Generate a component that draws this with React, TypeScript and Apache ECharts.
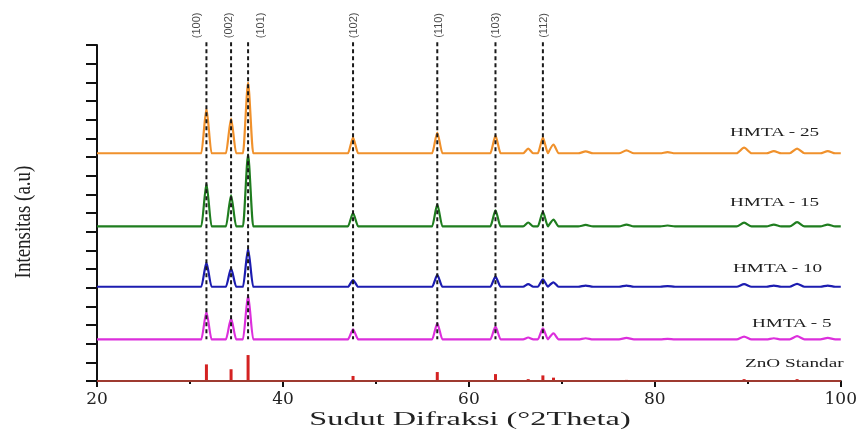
import React, { useEffect, useRef } from "react";
import * as echarts from "echarts";

// 2θ positions of the ZnO reflections (degrees)
const peakPos = [31.77, 34.42, 36.25, 47.54, 56.6, 62.86, 66.38, 67.96, 69.1, 72.56, 76.95, 81.37, 89.6, 92.8, 95.3, 98.6];

// Peak heights above each trace's baseline (arbitrary units)
const hmta25 = [2.39, 1.86, 3.79, 0.84, 1.11, 0.95, 0.25, 0.84, 0.47, 0.1, 0.15, 0.06, 0.3, 0.12, 0.25, 0.12];
const hmta15 = [2.3, 1.66, 3.86, 0.71, 1.18, 0.86, 0.21, 0.78, 0.37, 0.08, 0.1, 0.05, 0.2, 0.1, 0.23, 0.1];
const hmta10 = [1.29, 0.98, 2.03, 0.36, 0.63, 0.54, 0.14, 0.39, 0.23, 0.06, 0.06, 0.03, 0.14, 0.06, 0.15, 0.06];
const hmta5 = [1.48, 1.13, 2.37, 0.54, 0.86, 0.68, 0.1, 0.59, 0.32, 0.06, 0.08, 0.03, 0.15, 0.06, 0.17, 0.08];
const znoStd = [0.89, 0.63, 1.39, 0.27, 0.48, 0.37, 0.1, 0.3, 0.18, 0.04, 0.06, 0.03, 0.1, 0.05, 0.1, 0.05];

// Vertical offsets (baselines) of the stacked patterns
const baselines = { hmta25: 12.2, hmta15: 8.28, hmta10: 5.05, hmta5: 2.23 };

// Indexed reflections (hkl) marked by dashed lines
const hklLabels = ["(100)", "(002)", "(101)", "(102)", "(110)", "(103)", "(112)"];
const hklPos = [31.77, 34.42, 36.25, 47.54, 56.6, 62.86, 67.96];
const hklLabelShift = [-10, -3, 12, 0, 1, 0, 0];

const xTicks = [20, 40, 60, 80, 100];

function buildTrace(base: number, heights: number[]) {
  const pts: number[][] = [[xTicks[0], base]];
  peakPos.forEach((p, i) => {
    const w = i < 9 ? 0.55 : 0.8;
    pts.push([p - w, base], [p, base + heights[i]], [p + w, base]);
  });
  pts.push([xTicks[xTicks.length - 1], base]);
  return pts;
}

export default function App() {
  const ref = useRef<HTMLDivElement>(null);
  useEffect(() => {
    if (!ref.current) return;
    const chart = echarts.init(ref.current, null, { renderer: "svg" });

    const traceSeries = (name: string, base: number, h: number[], color: string) => ({
      name,
      type: "line",
      data: buildTrace(base, h),
      showSymbol: false,
      symbol: "none",
      smooth: 0.25,
      smoothMonotone: "x",
      clip: false,
      lineStyle: { color, width: 2.2 },
      z: 3,
    });

    const dashSeries = hklPos.map((p, i) => ({
      name: "hkl" + i,
      type: "line",
      data: [
        [p, 18.15],
        [p, baselines.hmta5],
      ],
      showSymbol: false,
      symbol: "none",
      clip: false,
      lineStyle: { color: "#1a1a1a", width: 2, type: [4, 3] },
      z: 5,
    }));

    const textStyle = (text: string) => ({
      text,
      font: '12px "Liberation Serif"',
      fill: "#222",
      textVerticalAlign: "middle",
      verticalAlign: "middle",
    });

    chart.setOption({
      animation: false,
      grid: { left: 97, right: 17, top: 45, bottom: 51 },
      xAxis: {
        type: "value",
        min: 20,
        max: 100,
        interval: 20,
        axisLine: { lineStyle: { color: "#111", width: 2 } },
        axisTick: { show: true, length: 6, lineStyle: { color: "#111", width: 2 } },
        minorTick: { show: true, splitNumber: 2, length: 3, lineStyle: { color: "#111", width: 2 } },
        splitLine: { show: false },
        axisLabel: { fontFamily: "DejaVu Serif", fontSize: 17, color: "#222", margin: 8 },
      },
      yAxis: {
        type: "value",
        min: 0,
        max: 18,
        interval: 1,
        axisLine: { show: true, lineStyle: { color: "#111", width: 2 } },
        axisTick: { show: true, length: 11, lineStyle: { color: "#111", width: 2 } },
        splitLine: { show: false },
        axisLabel: { show: false },
      },
      series: [
        traceSeries("HMTA - 25", baselines.hmta25, hmta25, "#f0912c"),
        traceSeries("HMTA - 15", baselines.hmta15, hmta15, "#1f7d1f"),
        traceSeries("HMTA - 10", baselines.hmta10, hmta10, "#1c1cb0"),
        traceSeries("HMTA - 5", baselines.hmta5, hmta5, "#dc2fdc"),
        {
          name: "ZnO Standar",
          type: "bar",
          data: peakPos.map((p, i) => [p, znoStd[i]]),
          barWidth: 3,
          itemStyle: { color: "#d42222" },
          z: 3,
        },
        {
          name: "ZnO baseline",
          type: "line",
          data: [
            [20, 0],
            [100, 0],
          ],
          showSymbol: false,
          symbol: "none",
          lineStyle: { color: "#9e3a30", width: 2 },
          z: 4,
        },
        ...dashSeries,
        {
          name: "hkl labels",
          type: "scatter",
          clip: false,
          symbolSize: 0,
          data: hklPos.map((p, i) => ({
            value: [p, 19.05],
            label: { offset: [0, hklLabelShift[i]] },
          })),
          label: {
            show: true,
            position: "inside",
            rotate: 90,
            align: "center",
            verticalAlign: "middle",
            fontFamily: "Liberation Sans",
            fontSize: 11,
            color: "#1a1a1a",
            formatter: (p: any) => hklLabels[p.dataIndex],
          },
          z: 6,
        },
      ],
      graphic: [
        { type: "text", x: 730, y: 132, scaleX: 1.6, style: textStyle("HMTA - 25") },
        { type: "text", x: 730, y: 202, scaleX: 1.6, style: textStyle("HMTA - 15") },
        { type: "text", x: 733, y: 268, scaleX: 1.6, style: textStyle("HMTA - 10") },
        { type: "text", x: 752, y: 323, scaleX: 1.6, style: textStyle("HMTA - 5") },
        { type: "text", x: 745, y: 363, scaleX: 1.6, style: textStyle("ZnO Standar") },
        {
          type: "text",
          x: 470,
          y: 419,
          scaleX: 1.7,
          style: { text: "Sudut Difraksi (°2Theta)", font: '19px "Liberation Serif"', fill: "#222", textAlign: "center", align: "center", textVerticalAlign: "middle", verticalAlign: "middle" },
        },
        {
          type: "text",
          x: 22,
          y: 222,
          rotation: Math.PI / 2,
          scaleY: 1.2,
          style: { text: "Intensitas (a.u)", font: '19px "Liberation Serif"', fill: "#222", textAlign: "center", align: "center", textVerticalAlign: "middle", verticalAlign: "middle" },
        },
      ],
    });
    return () => chart.dispose();
  }, []);
  return <div ref={ref} style={{ position: "fixed", left: 0, top: 0, width: 860, height: 432 }} />;
}
